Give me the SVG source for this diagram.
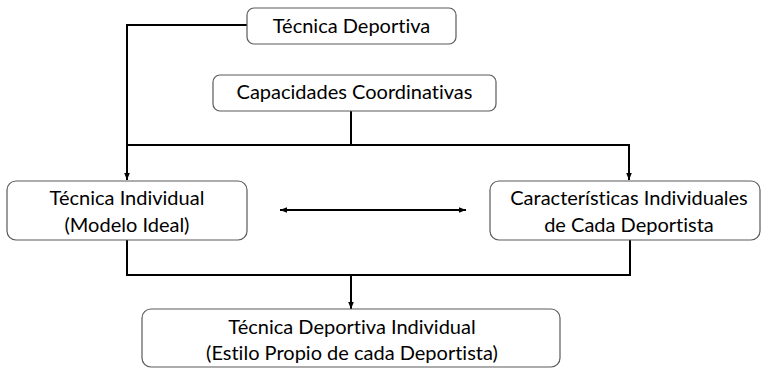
<svg xmlns="http://www.w3.org/2000/svg" width="762" height="368" viewBox="0 0 762 368">
<style>
.box{fill:#fff;stroke:#5a5a5a;stroke-width:1.2}
.ln{fill:none;stroke:#000;stroke-width:2}
text{font-family:Lato,"Liberation Sans",sans-serif;font-size:20px;fill:#000;text-anchor:middle;font-variant-ligatures:none}
</style>
<defs>
<marker id="ah2" viewBox="0 0 10 10" refX="10" refY="5" markerWidth="7" markerHeight="7" orient="auto-start-reverse" markerUnits="userSpaceOnUse">
<path d="M0,1 L10,5 L0,9 z" fill="#000"/>
</marker>
</defs>
<g id="connectors">
<path class="ln" d="M247,25 H127 V180" marker-end="url(#ah2)"/>
<path class="ln" d="M351,111 V145"/>
<path class="ln" d="M127,145 H629 V180" marker-end="url(#ah2)"/>
<path class="ln" d="M280,210 H466" stroke-width="1.5" marker-start="url(#ah2)" marker-end="url(#ah2)"/>
<path class="ln" d="M127,240 V275 H630 V240"/>
<path class="ln" d="M351,275 V309" marker-end="url(#ah2)"/>
</g>
<g id="n1"><rect class="box" x="247" y="8" width="209" height="36" rx="7"/><text x="351.5" y="33">Técnica Deportiva</text></g>
<g id="n2"><rect class="box" x="213" y="75" width="283" height="36" rx="7"/><text x="354.5" y="99">Capacidades Coordinativas</text></g>
<g id="n3"><rect class="box" x="7" y="181" width="240" height="59" rx="9"/><text x="127" y="205">Técnica Individual</text><text x="127" y="232">(Modelo Ideal)</text></g>
<g id="n4"><rect class="box" x="490" y="181" width="270" height="59" rx="9"/><text x="629" y="205">Características Individuales</text><text x="629" y="232">de Cada Deportista</text></g>
<g id="n5"><rect class="box" x="142" y="309" width="418" height="58" rx="9"/><text x="352" y="334">Técnica Deportiva Individual</text><text x="352" y="360">(Estilo Propio de cada Deportista)</text></g>
</svg>
